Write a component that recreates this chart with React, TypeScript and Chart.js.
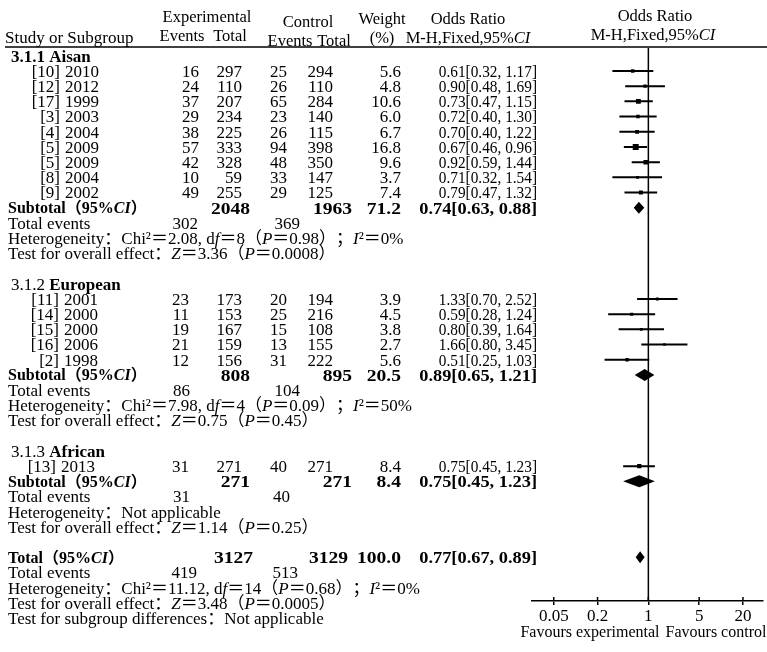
import React, { useEffect, useRef } from "react";
import { Chart, registerables } from "chart.js";

Chart.register(...registerables);

const FAMILY = '"Liberation Serif", "Noto Sans CJK SC", serif';

// ---------- data ----------
const groupLabels = ["*3.1.1 Aisan*", "3.1.2 *European*", "3.1.3 *African*"];
const studyGroup = [0, 0, 0, 0, 0, 0, 0, 0, 0, 1, 1, 1, 1, 1, 2];
const studyRefs = ["[10]", "[12]", "[17]", "[3]", "[4]", "[5]", "[5]", "[8]", "[9]", "[11]", "[14]", "[15]", "[16]", "[2]", "[13]"];
const studyYears = ["2010", "2012", "1999", "2003", "2004", "2009", "2009", "2004", "2002", "2001", "2000", "2000", "2006", "1998", "2013"];
const expEvents = [16, 24, 37, 29, 38, 57, 42, 10, 49, 23, 11, 19, 21, 12, 31];
const expTotal = [297, 110, 207, 234, 225, 333, 328, 59, 255, 173, 153, 167, 159, 156, 271];
const ctrlEvents = [25, 26, 65, 23, 26, 94, 48, 33, 29, 20, 25, 15, 13, 31, 40];
const ctrlTotal = [294, 110, 284, 140, 115, 398, 350, 147, 125, 194, 216, 108, 155, 222, 271];
const weights = [5.6, 4.8, 10.6, 6.0, 6.7, 16.8, 9.6, 3.7, 7.4, 3.9, 4.5, 3.8, 2.7, 5.6, 8.4];
const oddsRatio = [0.61, 0.9, 0.73, 0.72, 0.7, 0.67, 0.92, 0.71, 0.79, 1.33, 0.59, 0.8, 1.66, 0.51, 0.75];
const ciLow = [0.32, 0.48, 0.47, 0.4, 0.4, 0.46, 0.59, 0.32, 0.47, 0.7, 0.28, 0.39, 0.8, 0.25, 0.45];
const ciHigh = [1.17, 1.69, 1.15, 1.3, 1.22, 0.96, 1.44, 1.54, 1.32, 2.52, 1.24, 1.64, 3.45, 1.03, 1.23];

const subExpEvents = [302, 86, 31];
const subCtrlEvents = [369, 104, 40];
const subExpTotal = [2048, 808, 271];
const subCtrlTotal = [1963, 895, 271];
const subWeight = [71.2, 20.5, 8.4];
const subOR = [0.74, 0.89, 0.75];
const subLow = [0.63, 0.65, 0.45];
const subHigh = [0.88, 1.21, 1.23];
const subHeterogeneity = [
  "Heterogeneity：Chi²＝2.08, d{f}＝8（{P}＝0.98）；{I}²＝0%",
  "Heterogeneity：Chi²＝7.98, d{f}＝4（{P}＝0.09）；{I}²＝50%",
  "Heterogeneity：Not applicable",
];
const subOverall = [
  "Test for overall effect：{Z}＝3.36（{P}＝0.0008）",
  "Test for overall effect：{Z}＝0.75（{P}＝0.45）",
  "Test for overall effect：{Z}＝1.14（{P}＝0.25）",
];

const totalExpEvents = 419;
const totalCtrlEvents = 513;
const totalExpTotal = 3127;
const totalCtrlTotal = 3129;
const totalWeight = 100.0;
const totalOR = [0.77, 0.67, 0.89];
const totalHeterogeneity = "Heterogeneity：Chi²＝11.12, d{f}＝14（{P}＝0.68）；{I}²＝0%";
const totalOverall = "Test for overall effect：{Z}＝3.48（{P}＝0.0005）";
const subgroupDiff = "Test for subgroup differences：Not applicable";

const xTicks = [0.05, 0.2, 1, 5, 20];
const xTickLabels = ["0.05", "0.2", "1", "5", "20"];
const favoursLabels = ["Favours experimental", "Favours control"];

// ---------- row layout ----------
function buildRows() {
  const header: number[] = [];
  const study: number[] = [];
  const subtotal: number[] = [];
  const events: number[] = [];
  const het: number[] = [];
  const test: number[] = [];
  let r = 0;
  for (let g = 0; g < groupLabels.length; g++) {
    header.push(r++);
    studyGroup.forEach((sg, i) => {
      if (sg === g) study[i] = r++;
    });
    subtotal.push(r++);
    events.push(r++);
    het.push(r++);
    test.push(r++);
    r++;
  }
  const total = r++;
  const totalEvents = r++;
  const totalHet = r++;
  const totalTest = r++;
  const diff = r++;
  return { header, study, subtotal, events, het, test, total, totalEvents, totalHet, totalTest, diff };
}
const ROWS = buildRows();

// ---------- text helpers ----------
type Run = { t: string; i: boolean; b: boolean };
function parseRuns(s: string, boldAll: boolean): Run[] {
  const runs: Run[] = [];
  let bold = boldAll;
  let ital = false;
  let cur = "";
  const flush = () => {
    if (cur) runs.push({ t: cur, i: ital, b: bold });
    cur = "";
  };
  for (const ch of s) {
    if (ch === "*") {
      flush();
      bold = !bold;
    } else if (ch === "{") {
      flush();
      ital = true;
    } else if (ch === "}") {
      flush();
      ital = false;
    } else cur += ch;
  }
  flush();
  return runs;
}
function fontOf(r: Run, size: number) {
  return `${r.i ? "italic " : ""}${r.b ? "bold " : ""}${size}px ${FAMILY}`;
}
const BASE = 17;
function drawText(
  ctx: CanvasRenderingContext2D,
  s: string,
  x: number,
  y: number,
  align: "left" | "right" | "center" = "left",
  opts: { bold?: boolean; size?: number; sx?: number } = {}
) {
  const size = opts.size ?? BASE;
  const sx = opts.sx ?? 1;
  const runs = parseRuns(s, !!opts.bold);
  const widths = runs.map((r) => {
    ctx.font = fontOf(r, size);
    return ctx.measureText(r.t).width * sx;
  });
  const total = widths.reduce((a, b) => a + b, 0);
  let cx = align === "left" ? x : align === "right" ? x - total : x - total / 2;
  ctx.textAlign = "left";
  ctx.textBaseline = "alphabetic";
  ctx.fillStyle = "#000";
  runs.forEach((r, k) => {
    ctx.font = fontOf(r, size);
    ctx.save();
    ctx.translate(cx, y + size * 0.34);
    ctx.scale(sx, 1);
    ctx.fillText(r.t, 0, 0);
    ctx.restore();
    cx += widths[k];
  });
}
const fmtOR = (o: number, l: number, h: number) => `${o.toFixed(2)}[${l.toFixed(2)}, ${h.toFixed(2)}]`;

// column right edges
const EXP_EV = [199, 189, 189];
const EXP_TOT = 242;
const CTRL_EV = 287;
const CTRL_TOT = 333;
const WEIGHT = 401;
const OR_RIGHT = 537;
const REF_RIGHT = [60, 59, 56];
const BOLD_NUM = { bold: true, size: 17, sx: 1.15 };
const OR_STYLE = { size: 17, sx: 0.9 };
const OR_BOLD = { bold: true, size: 17, sx: 1.08 };

const forestPlugin = {
  id: "forestTable",
  afterDatasetsDraw(chart: any) {
    const ctx: CanvasRenderingContext2D = chart.ctx;
    const xs = chart.scales.x;
    const ys = chart.scales.y;
    const Y = (r: number) => ys.getPixelForValue(r);
    ctx.save();

    // diamonds
    const diamond = (o: number, l: number, h: number, r: number) => {
      const y = Y(r);
      const dh = 6;
      ctx.beginPath();
      ctx.moveTo(xs.getPixelForValue(l), y);
      ctx.lineTo(xs.getPixelForValue(o), y - dh);
      ctx.lineTo(xs.getPixelForValue(h), y);
      ctx.lineTo(xs.getPixelForValue(o), y + dh);
      ctx.closePath();
      ctx.fillStyle = "#000";
      ctx.fill();
    };
    subOR.forEach((o, g) => diamond(o, subLow[g], subHigh[g], ROWS.subtotal[g]));
    diamond(totalOR[0], totalOR[1], totalOR[2], ROWS.total);

    // tick marks crossing above the axis
    ctx.strokeStyle = "#000";
    ctx.lineWidth = 1.5;
    xTicks.forEach((v) => {
      const px = xs.getPixelForValue(v);
      ctx.beginPath();
      ctx.moveTo(px, xs.top - 4);
      ctx.lineTo(px, xs.top);
      ctx.stroke();
    });

    // header
    const H = { size: 16.5 };
    drawText(ctx, "Study or Subgroup", 5, 37);
    drawText(ctx, "Experimental", 207, 16, "center", H);
    drawText(ctx, "Events", 182, 35, "center", H);
    drawText(ctx, "Total", 230, 35, "center", H);
    drawText(ctx, "Control", 308, 21, "center", H);
    drawText(ctx, "Events", 290, 40, "center", H);
    drawText(ctx, "Total", 334, 40, "center", H);
    drawText(ctx, "Weight", 382, 18, "center", H);
    drawText(ctx, "(%)", 382, 37, "center", H);
    drawText(ctx, "Odds Ratio", 468, 18, "center", H);
    drawText(ctx, "M-H,Fixed,95%{CI}", 468, 37, "center", H);
    drawText(ctx, "Odds Ratio", 655, 15, "center", H);
    drawText(ctx, "M-H,Fixed,95%{CI}", 653, 34, "center", H);
    ctx.beginPath();
    ctx.lineWidth = 1.5;
    ctx.moveTo(5, 47);
    ctx.lineTo(767, 47);
    ctx.stroke();

    // groups
    groupLabels.forEach((lab, g) => {
      drawText(ctx, lab, 11, Y(ROWS.header[g]));
      studyGroup.forEach((sg, i) => {
        if (sg !== g) return;
        const y = Y(ROWS.study[i]);
        drawText(ctx, studyRefs[i], REF_RIGHT[g], y, "right");
        drawText(ctx, studyYears[i], REF_RIGHT[g] + 5, y);
        drawText(ctx, String(expEvents[i]), EXP_EV[g], y, "right");
        drawText(ctx, String(expTotal[i]), EXP_TOT, y, "right");
        drawText(ctx, String(ctrlEvents[i]), CTRL_EV, y, "right");
        drawText(ctx, String(ctrlTotal[i]), CTRL_TOT, y, "right");
        drawText(ctx, weights[i].toFixed(1), WEIGHT, y, "right");
        drawText(ctx, fmtOR(oddsRatio[i], ciLow[i], ciHigh[i]), OR_RIGHT, y, "right", OR_STYLE);
      });
      const ys2 = Y(ROWS.subtotal[g]);
      drawText(ctx, "Subtotal（95%{CI}）", 8, ys2, "left", { bold: true, size: 16 });
      drawText(ctx, String(subExpTotal[g]), 250, ys2, "right", BOLD_NUM);
      drawText(ctx, String(subCtrlTotal[g]), 352, ys2, "right", BOLD_NUM);
      drawText(ctx, subWeight[g].toFixed(1), WEIGHT, ys2, "right", BOLD_NUM);
      drawText(ctx, fmtOR(subOR[g], subLow[g], subHigh[g]), OR_RIGHT, ys2, "right", OR_BOLD);
      const ye = Y(ROWS.events[g]);
      drawText(ctx, "Total events", 8, ye);
      drawText(ctx, String(subExpEvents[g]), g === 0 ? 198 : 190, ye, "right");
      drawText(ctx, String(subCtrlEvents[g]), g === 2 ? 290 : 300, ye, "right");
      drawText(ctx, subHeterogeneity[g], 8, Y(ROWS.het[g]));
      drawText(ctx, subOverall[g], 8, Y(ROWS.test[g]));
    });

    // total
    const yt = Y(ROWS.total);
    drawText(ctx, "Total（95%{CI}）", 8, yt, "left", { bold: true, size: 16 });
    drawText(ctx, String(totalExpTotal), 253, yt, "right", BOLD_NUM);
    drawText(ctx, String(totalCtrlTotal), 348, yt, "right", BOLD_NUM);
    drawText(ctx, totalWeight.toFixed(1), WEIGHT, yt, "right", BOLD_NUM);
    drawText(ctx, fmtOR(totalOR[0], totalOR[1], totalOR[2]), OR_RIGHT, yt, "right", OR_BOLD);
    const yte = Y(ROWS.totalEvents);
    drawText(ctx, "Total events", 8, yte);
    drawText(ctx, String(totalExpEvents), 197, yte, "right");
    drawText(ctx, String(totalCtrlEvents), 298, yte, "right");
    drawText(ctx, totalHeterogeneity, 8, Y(ROWS.totalHet));
    drawText(ctx, totalOverall, 8, Y(ROWS.totalTest));
    drawText(ctx, subgroupDiff, 8, Y(ROWS.diff));

    // favours
    drawText(ctx, favoursLabels[0], 590, 632, "center", { size: 16 });
    drawText(ctx, favoursLabels[1], 716, 632, "center", { size: 16 });

    ctx.restore();
  },
};

export default function App() {
  const ref = useRef<HTMLCanvasElement | null>(null);
  useEffect(() => {
    if (!ref.current) return;
    const whiskers: any[] = [];
    oddsRatio.forEach((_, i) => {
      whiskers.push({ x: ciLow[i], y: ROWS.study[i] });
      whiskers.push({ x: ciHigh[i], y: ROWS.study[i] });
      whiskers.push({ x: null, y: null });
    });
    const squares = oddsRatio.map((o, i) => ({ x: o, y: ROWS.study[i] }));
    const squareRadius = weights.map((w) => (1.45 * Math.sqrt(w)) / Math.SQRT2);
    const yMin = -0.51;
    const yMax = 35.87;
    const chart = new Chart(ref.current, {
      type: "scatter",
      data: {
        datasets: [
          {
            data: [
              { x: 1, y: yMin },
              { x: 1, y: yMax },
            ],
            showLine: true,
            borderColor: "#000",
            borderWidth: 1.5,
            pointRadius: 0,
          },
          {
            data: whiskers,
            showLine: true,
            spanGaps: false,
            borderColor: "#000",
            borderWidth: 2,
            pointRadius: 0,
          },
          {
            data: squares,
            pointStyle: "rect",
            pointRadius: squareRadius,
            backgroundColor: "#000",
            borderColor: "#000",
            borderWidth: 0,
          },
        ] as any,
      },
      options: {
        animation: false,
        responsive: true,
        maintainAspectRatio: false,
        events: [],
        layout: { padding: { left: 532, right: 0, top: 48, bottom: 0 } },
        plugins: { legend: { display: false }, tooltip: { enabled: false } },
        scales: {
          x: {
            type: "logarithmic",
            min: 0.0251,
            max: 37.5,
            bounds: "data",
            position: "bottom",
            border: { display: true, color: "#000", width: 1.5 },
            grid: { display: true, drawOnChartArea: false, drawTicks: true, tickLength: 4, color: "#000", lineWidth: 1.5 },
            ticks: {
              autoSkip: false,
              maxRotation: 0,
              padding: 1,
              color: "#000",
              font: { family: FAMILY, size: 17 },
              callback: (v: any) => {
                const k = xTicks.findIndex((t) => Math.abs(t - Number(v)) < 1e-9);
                return k >= 0 ? xTickLabels[k] : "";
              },
            },
            afterBuildTicks: (scale: any) => {
              scale.ticks = xTicks.map((v) => ({ value: v }));
            },
            afterFit: (scale: any) => {
              scale.height = 51;
            },
          } as any,
          y: {
            type: "linear",
            display: false,
            reverse: true,
            min: yMin,
            max: yMax,
          },
        },
      },
      plugins: [forestPlugin],
    });
    return () => chart.destroy();
  }, []);
  return (
    <div style={{ position: "absolute", left: 0, top: 0, width: 767, height: 652, background: "#fff" }}>
      <canvas ref={ref} />
    </div>
  );
}
